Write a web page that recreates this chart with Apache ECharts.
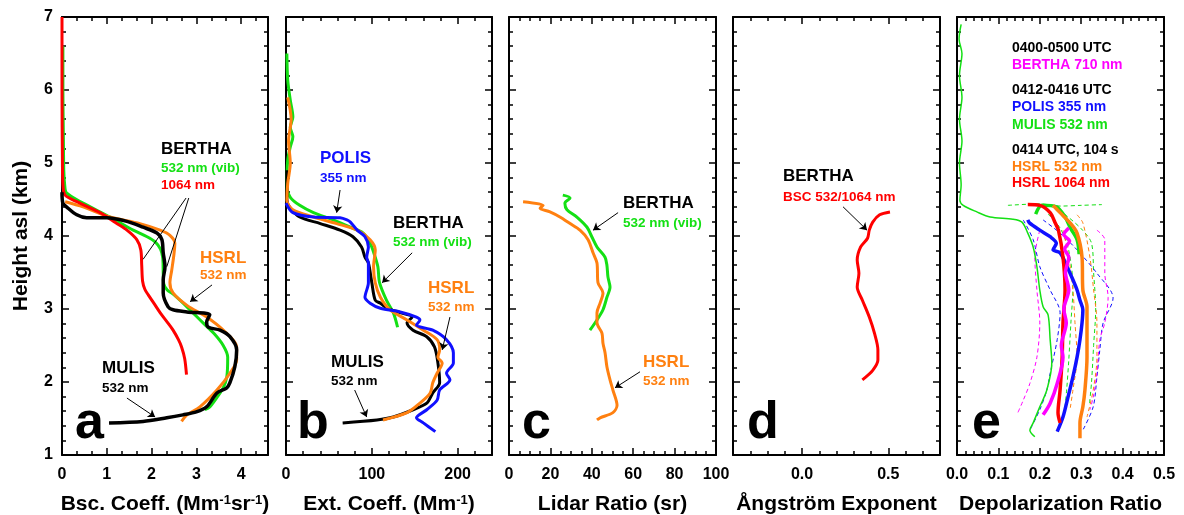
<!DOCTYPE html>
<html>
<head>
<meta charset="utf-8">
<script src="https://cdn.jsdelivr.net/npm/echarts@6/dist/echarts.min.js"></script>
<style>
  html, body { margin: 0; background: #fff; }
  #chart { width: 1184px; height: 515px; }
</style>
</head>
<body>
<div id="chart"></div>
<script>
// ---- data: [value, height km] ----
// a: backscatter coefficient
var aBertha1064 = [[0,7.0],[0,6.0],[0.01,5.0],[0.02,4.7],[0.07,4.56],[0.33,4.47],[0.85,4.32],[1.2,4.18],[1.45,4.08],[1.67,3.95],[1.76,3.81],[1.78,3.6],[1.8,3.38],[1.85,3.27],[1.93,3.19],[2.05,3.08],[2.19,2.95],[2.35,2.82],[2.48,2.71],[2.6,2.58],[2.67,2.48],[2.74,2.32],[2.78,2.10]];
var aBerthaVib = [[0.02,6.6],[0.02,6.0],[0.03,5.4],[0.04,4.9],[0.06,4.7],[0.1,4.59],[0.47,4.45],[1.07,4.26],[1.59,4.08],[1.9,3.99],[2.08,3.92],[2.2,3.82],[2.25,3.7],[2.26,3.5],[2.27,3.35],[2.35,3.26],[2.49,3.2],[2.79,3.03],[3.15,2.81],[3.4,2.66],[3.6,2.5],[3.7,2.34],[3.68,2.07],[3.6,1.92],[3.45,1.78],[3.3,1.66],[3.19,1.62]];
var aMulis = [[0,4.6],[0.02,4.45],[0.1,4.4],[0.33,4.29],[0.55,4.25],[1.0,4.25],[1.45,4.2],[1.81,4.12],[2.12,4.04],[2.23,3.95],[2.26,3.77],[2.3,3.58],[2.26,3.4],[2.26,3.22],[2.37,3.03],[2.48,2.99],[2.79,2.96],[3.3,2.92],[3.23,2.82],[3.27,2.75],[3.53,2.71],[3.75,2.62],[3.9,2.44],[3.86,2.21],[3.75,1.99],[3.68,1.92],[3.46,1.85],[3.23,1.66],[3.0,1.59],[2.7,1.55],[2.34,1.51],[1.81,1.46],[1.05,1.44]];
var aHsrl = [[0.07,4.47],[0.47,4.4],[1.07,4.26],[1.74,4.17],[2.19,4.08],[2.41,4.01],[2.52,3.9],[2.5,3.75],[2.45,3.53],[2.41,3.36],[2.48,3.22],[2.79,3.05],[3.23,2.89],[3.6,2.71],[3.9,2.48],[3.9,2.3],[3.75,2.12],[3.46,1.89],[3.08,1.66],[2.79,1.55],[2.67,1.46]];

// b: extinction coefficient
var bBerthaVib = [[1,6.5],[2,6.14],[5,5.86],[8,5.63],[5,5.49],[8,5.36],[5,5.22],[2,5.04],[1,4.67],[5,4.53],[16,4.42],[32,4.32],[55,4.22],[75,4.12],[90,4.04],[98,3.9],[102,3.78],[107,3.58],[109,3.36],[117,3.12],[125,2.95],[130,2.75]];
var bMulis = [[1,4.9],[1,4.5],[4,4.4],[16,4.26],[40,4.17],[63,4.08],[78,3.99],[88,3.85],[92,3.71],[96,3.63],[100,3.36],[104,3.12],[110,3.08],[118,3.01],[133,2.95],[147,2.89],[141,2.81],[148,2.71],[164,2.62],[173,2.48],[177,2.26],[179,1.99],[171,1.85],[164,1.71],[148,1.62],[125,1.52],[106,1.48],[66,1.44]];
var bHsrl = [[2,5.9],[6,5.6],[3,5.3],[5,5.0],[2,4.72],[1,4.49],[8,4.36],[32,4.26],[59,4.17],[83,4.08],[98,3.95],[104,3.81],[102,3.58],[104,3.36],[110,3.16],[121,2.99],[141,2.85],[160,2.71],[176,2.58],[179,2.44],[177,2.34],[182,2.26],[176,2.12],[171,1.99],[168,1.85],[156,1.71],[141,1.58],[113,1.48]];
var bPolis = [[0,4.45],[8,4.32],[32,4.26],[63,4.25],[71,4.22],[75,4.19],[83,4.08],[92,3.99],[96,3.85],[94,3.71],[96,3.63],[96,3.36],[92,3.16],[98,3.08],[110,3.01],[133,2.96],[152,2.89],[156,2.85],[152,2.78],[171,2.71],[187,2.58],[195,2.4],[195,2.26],[187,2.12],[191,2.03],[179,1.89],[176,1.75],[164,1.62],[152,1.51],[160,1.44],[174,1.32]];

// c: lidar ratio
var cHsrl = [[6.8,4.47],[16.5,4.42],[15,4.38],[19.8,4.33],[24.6,4.26],[29.5,4.17],[34.3,4.08],[38.2,3.95],[40.6,3.77],[42.5,3.63],[43,3.36],[45.4,3.22],[44,3.08],[42.5,2.95],[42.5,2.81],[44.9,2.67],[45.4,2.53],[46.4,2.4],[47.3,2.21],[48.8,2.03],[50.2,1.89],[52.2,1.68],[50.2,1.58],[44,1.51],[42.5,1.48]];
var cBerthaVib = [[26,4.56],[29.5,4.52],[27,4.45],[28,4.36],[32.8,4.26],[37.7,4.12],[40,3.99],[42.5,3.85],[46.4,3.71],[47.3,3.6],[47.8,3.44],[48.8,3.3],[47.3,3.16],[45.4,2.99],[42.5,2.85],[39.1,2.71]];

// d: Angstrom exponent
var dBertha = [[0.51,4.33],[0.45,4.29],[0.41,4.19],[0.39,4.08],[0.38,3.97],[0.34,3.85],[0.32,3.67],[0.33,3.49],[0.32,3.3],[0.35,3.12],[0.39,2.89],[0.42,2.67],[0.44,2.44],[0.44,2.3],[0.41,2.16],[0.35,2.03]];

// e: depolarization ratio
var eMulisVol = [[0.01,6.9],[0.005,6.7],[0.012,6.5],[0.006,6.2],[0.012,5.9],[0.006,5.6],[0.012,5.3],[0.006,5.0],[0.01,4.7],[0.007,4.49],[0.015,4.42],[0.048,4.33],[0.08,4.26],[0.135,4.23],[0.157,4.19],[0.171,4.04],[0.184,3.85],[0.193,3.58],[0.2,3.26],[0.208,3.03],[0.22,2.92],[0.225,2.58],[0.229,2.26],[0.217,1.89],[0.2,1.66],[0.184,1.44],[0.176,1.34],[0.188,1.25]];
var eMulis = [[0.19,4.3],[0.205,4.42],[0.24,4.4],[0.26,4.27],[0.275,4.1],[0.29,3.95],[0.295,3.75]];
var ePolis = [[0.171,4.22],[0.175,4.18],[0.2,4.08],[0.225,3.99],[0.24,3.9],[0.232,3.81],[0.249,3.77],[0.266,3.58],[0.28,3.4],[0.29,3.26],[0.297,3.12],[0.304,2.99],[0.302,2.81],[0.297,2.58],[0.29,2.34],[0.28,2.07],[0.268,1.79],[0.256,1.52],[0.242,1.32]];
var eHsrl1064 = [[0.171,4.43],[0.2,4.42],[0.225,4.32],[0.237,4.18],[0.245,4.08],[0.256,3.71],[0.261,3.26],[0.256,2.81],[0.254,2.34],[0.249,1.89],[0.244,1.58],[0.249,1.44]];
var eBertha710 = [[0.27,4.11],[0.258,4.02],[0.272,3.93],[0.26,3.82],[0.27,3.71],[0.262,3.5],[0.27,3.26],[0.258,3.0],[0.264,2.81],[0.252,2.5],[0.256,2.34],[0.242,1.98],[0.225,1.71],[0.208,1.55]];
var eHsrl532 = [[0.232,4.42],[0.249,4.32],[0.273,4.18],[0.29,4.04],[0.302,3.71],[0.304,3.26],[0.314,3.03],[0.314,2.81],[0.314,2.34],[0.309,1.89],[0.304,1.66],[0.297,1.44],[0.297,1.23]];
var eMulisTop = [[0.123,4.42],[0.2,4.44],[0.25,4.41],[0.3,4.42],[0.35,4.43]];
var eMulisLo = [[0.22,4.3],[0.25,4.1],[0.27,3.8],[0.28,3.3],[0.275,2.8],[0.27,2.3],[0.265,1.9],[0.26,1.6]];
var eMulisHi = [[0.26,4.3],[0.3,4.1],[0.325,3.9],[0.33,3.5],[0.335,3.0],[0.33,2.5],[0.325,2.0],[0.32,1.7]];
var ePolisLo = [[0.16,4.22],[0.184,3.95],[0.2,3.58],[0.225,3.26],[0.249,2.95],[0.242,2.58],[0.225,2.12],[0.217,1.89],[0.2,1.62],[0.176,1.34]];
var ePolisHi = [[0.208,4.22],[0.249,4.04],[0.29,3.81],[0.338,3.49],[0.377,3.15],[0.353,2.81],[0.345,2.44],[0.338,2.07],[0.329,1.66],[0.304,1.34]];
var eBerthaLo = [[0.2,4.08],[0.188,3.71],[0.193,3.26],[0.2,2.81],[0.193,2.34],[0.176,1.98],[0.16,1.75],[0.147,1.58]];
var eBerthaHi = [[0.338,4.08],[0.357,3.95],[0.357,3.49],[0.365,3.16],[0.357,2.81],[0.345,2.58],[0.338,2.12],[0.329,1.79],[0.321,1.62]];
var eHsrlLo = [[0.256,4.08],[0.27,3.71],[0.28,3.26],[0.285,2.81],[0.29,2.34],[0.28,1.89],[0.273,1.62]];
var eHsrlHi = [[0.29,4.29],[0.304,4.18],[0.321,3.71],[0.33,3.26],[0.338,2.81],[0.338,2.34],[0.329,1.89],[0.314,1.52]];

// tick labels
var yTicks = [1, 2, 3, 4, 5, 6, 7];
var aTicks = [0, 1, 2, 3, 4];
var bTicks = [0, 100, 200];
var cTicks = [0, 20, 40, 60, 80, 100];
var dTicks = [0.0, 0.5];
var eTicks = [0.0, 0.1, 0.2, 0.3, 0.4, 0.5];

var F = '"Liberation Sans", Arial, sans-serif';
var GREEN = '#14e014', RED = '#ff0000', BLUE = '#1010ff', ORANGE = '#ff8010', MAG = '#ff00ff';

function steps(a, b, s) {
    var out = [];
    var n = Math.round((b - a) / s);
    for (var i = 0; i <= n; i++) {
        var v = +(a + i * s).toFixed(6);
        if (v <= b + 1e-9) out.push(v);
    }
    return out;
}

var panels = [
    { left: 62, right: 268, min: 0, max: 4.6, ticks: aTicks, minor: steps(0, 4.6, 1 / 3), fmt: function (v) { return v; },
      name: '{t|Bsc. Coeff. (Mm}{s|-1}{t|sr}{s|-1}{t|)}' },
    { left: 286, right: 492, min: 0, max: 240, ticks: bTicks, minor: steps(0, 240, 20), fmt: function (v) { return v; },
      name: '{t|Ext. Coeff. (Mm}{s|-1}{t|)}' },
    { left: 509, right: 716, min: 0, max: 100, ticks: cTicks, minor: steps(0, 100, 5), fmt: function (v) { return v; },
      name: '{t|Lidar Ratio (sr)}' },
    { left: 733, right: 940, min: -0.4, max: 0.8, ticks: dTicks, minor: steps(-0.4, 0.8, 0.1), fmt: function (v) { return v.toFixed(1); },
      name: '{t|Ångström Exponent}' },
    { left: 957, right: 1164, min: 0, max: 0.5, ticks: eTicks, minor: steps(0, 0.5, 0.02), fmt: function (v) { return v.toFixed(1); },
      name: '{t|Depolarization Ratio}' }
];
var yMinor = steps(1, 7, 0.2);

var tickStyle = { color: '#000', width: 1.5 };
var grids = [], xAxes = [], yAxes = [], series = [];

panels.forEach(function (p, i) {
    grids.push({ left: p.left, top: 17, width: p.right - p.left, height: 438, outerBoundsMode: 'none', containLabel: false });
    var xb = { type: 'value', gridIndex: i, min: p.min, max: p.max, splitLine: { show: false } };
    xAxes.push(Object.assign({}, xb, {
        position: 'bottom',
        axisLine: { show: true, onZero: false, lineStyle: { color: '#000', width: 2 } },
        axisTick: { show: true, inside: true, length: 7, customValues: p.ticks, lineStyle: tickStyle },
        axisLabel: { show: true, customValues: p.ticks, formatter: p.fmt, margin: 12, fontSize: 16, fontWeight: 'bold', fontFamily: F, color: '#000' },
        name: p.name, nameLocation: 'middle', nameGap: 39,
        nameTextStyle: { rich: {
            t: { fontSize: 21, fontWeight: 'bold', fontFamily: F, color: '#000' },
            s: { fontSize: 13, fontWeight: 'bold', fontFamily: F, color: '#000', verticalAlign: 'top' }
        } }
    }));
    xAxes.push(Object.assign({}, xb, {
        position: 'bottom', axisLine: { show: false, onZero: false },
        axisTick: { show: true, inside: true, length: 4, customValues: p.minor, lineStyle: tickStyle },
        axisLabel: { show: false }
    }));
    xAxes.push(Object.assign({}, xb, {
        position: 'top',
        axisLine: { show: true, onZero: false, lineStyle: { color: '#000', width: 2 } },
        axisTick: { show: true, inside: true, length: 7, customValues: p.ticks, lineStyle: tickStyle },
        axisLabel: { show: false }
    }));
    xAxes.push(Object.assign({}, xb, {
        position: 'top', axisLine: { show: false, onZero: false },
        axisTick: { show: true, inside: true, length: 4, customValues: p.minor, lineStyle: tickStyle },
        axisLabel: { show: false }
    }));

    var yb = { type: 'value', gridIndex: i, min: 1, max: 7, splitLine: { show: false } };
    var yMain = Object.assign({}, yb, {
        position: 'left',
        axisLine: { show: true, onZero: false, lineStyle: { color: '#000', width: 2 } },
        axisTick: { show: true, inside: true, length: 7, customValues: yTicks, lineStyle: tickStyle },
        axisLabel: { show: i === 0, customValues: yTicks, margin: 9, fontSize: 16, fontWeight: 'bold', fontFamily: F, color: '#000' }
    });
    if (i === 0) {
        yMain.name = 'Height asl (km)';
        yMain.nameLocation = 'middle';
        yMain.nameGap = 30;
        yMain.nameTextStyle = { fontSize: 21, fontWeight: 'bold', fontFamily: F, color: '#000' };
    }
    yAxes.push(yMain);
    yAxes.push(Object.assign({}, yb, {
        position: 'left', axisLine: { show: false, onZero: false },
        axisTick: { show: true, inside: true, length: 4, customValues: yMinor, lineStyle: tickStyle },
        axisLabel: { show: false }
    }));
    yAxes.push(Object.assign({}, yb, {
        position: 'right',
        axisLine: { show: true, onZero: false, lineStyle: { color: '#000', width: 2 } },
        axisTick: { show: true, inside: true, length: 7, customValues: yTicks, lineStyle: tickStyle },
        axisLabel: { show: false }
    }));
    yAxes.push(Object.assign({}, yb, {
        position: 'right', axisLine: { show: false, onZero: false },
        axisTick: { show: true, inside: true, length: 4, customValues: yMinor, lineStyle: tickStyle },
        axisLabel: { show: false }
    }));
});

function line(panel, data, color, width, dashed) {
    series.push({
        type: 'line', xAxisIndex: panel * 4, yAxisIndex: panel * 4, data: data,
        showSymbol: false, smooth: 0.3, silent: true,
        lineStyle: { color: color, width: width, type: dashed ? [4, 3] : 'solid' }
    });
}

// a
line(0, aBerthaVib, GREEN, 3);
line(0, aHsrl, ORANGE, 3);
line(0, aBertha1064, RED, 3);
line(0, aMulis, '#000', 3.5);
// b
line(1, bBerthaVib, GREEN, 3);
line(1, bMulis, '#000', 3);
line(1, bHsrl, ORANGE, 3);
line(1, bPolis, BLUE, 3);
// c
line(2, cBerthaVib, GREEN, 3);
line(2, cHsrl, ORANGE, 3);
// d
line(3, dBertha, RED, 3);
// e
line(4, eMulisTop, GREEN, 1, true);
line(4, eMulisLo, GREEN, 1, true);
line(4, eMulisHi, GREEN, 1, true);
line(4, ePolisLo, BLUE, 1, true);
line(4, ePolisHi, BLUE, 1, true);
line(4, eBerthaLo, MAG, 1, true);
line(4, eBerthaHi, MAG, 1, true);
line(4, eHsrlLo, ORANGE, 1, true);
line(4, eHsrlHi, ORANGE, 1, true);
line(4, eMulisVol, GREEN, 1.5);
line(4, eMulis, GREEN, 3.5);
line(4, eHsrl532, ORANGE, 3.5);
line(4, ePolis, BLUE, 3.5);
line(4, eHsrl1064, RED, 3.5);
line(4, eBertha710, MAG, 3.5);

// pointer lines: [panel, from, to, arrow]
var pointers = [
    [0, [2.77, 4.52], [1.81, 3.68], false],
    [0, [2.83, 4.52], [2.34, 3.58], false],
    [0, [3.35, 3.33], [2.86, 3.10], true],
    [0, [1.45, 1.78], [2.08, 1.52], true],
    [1, [63, 4.63], [59, 4.32], true],
    [1, [147, 3.77], [112, 3.36], true],
    [1, [191, 2.89], [182, 2.44], true],
    [1, [80, 1.89], [94, 1.52], true],
    [2, [52.7, 4.32], [40.6, 4.08], true],
    [2, [63.3, 2.14], [51.2, 1.92], true],
    [3, [0.238, 4.40], [0.377, 4.08], true]
];
[0, 1, 2, 3].forEach(function (pi) {
    series.push({
        type: 'line', xAxisIndex: pi * 4, yAxisIndex: pi * 4, data: [], silent: true,
        markLine: {
            silent: true, animation: false, symbol: ['none', 'arrow'], symbolSize: 7,
            label: { show: false },
            lineStyle: { color: '#000', width: 1, type: 'solid' },
            emphasis: { disabled: true },
            data: pointers.filter(function (q) { return q[0] === pi; }).map(function (q) {
                return [{ coord: q[1], symbol: 'none' }, { coord: q[2], symbol: q[3] ? 'arrow' : 'none' }];
            })
        }
    });
});

// text labels [text, x, y, color, size]
var notes = [
    ['BERTHA', 161, 149, '#000', 17], ['532 nm (vib)', 161, 168, GREEN, 13.5], ['1064 nm', 161, 185, RED, 13.5],
    ['HSRL', 200, 258, ORANGE, 17], ['532 nm', 200, 275, ORANGE, 13.5],
    ['MULIS', 102, 368, '#000', 17], ['532 nm', 102, 388, '#000', 13.5],
    ['POLIS', 320, 158, BLUE, 17], ['355 nm', 320, 178, BLUE, 13.5],
    ['BERTHA', 393, 223, '#000', 17], ['532 nm (vib)', 393, 242, GREEN, 13.5],
    ['HSRL', 428, 288, ORANGE, 17], ['532 nm', 428, 307, ORANGE, 13.5],
    ['MULIS', 331, 362, '#000', 17], ['532 nm', 331, 381, '#000', 13.5],
    ['BERTHA', 623, 203, '#000', 17], ['532 nm (vib)', 623, 223, GREEN, 13.5],
    ['HSRL', 643, 362, ORANGE, 17], ['532 nm', 643, 381, ORANGE, 13.5],
    ['BERTHA', 783, 176, '#000', 17], ['BSC 532/1064 nm', 783, 197, RED, 13.5],
    ['0400-0500 UTC', 1012, 48, '#000', 14], ['BERTHA 710 nm', 1012, 65, MAG, 14],
    ['0412-0416 UTC', 1012, 90, '#000', 14], ['POLIS 355 nm', 1012, 107, BLUE, 14], ['MULIS 532 nm', 1012, 125, GREEN, 14],
    ['0414 UTC, 104 s', 1012, 150, '#000', 14], ['HSRL 532 nm', 1012, 167, ORANGE, 14], ['HSRL 1064 nm', 1012, 183, RED, 14],
    ['a', 75, 424, '#000', 52], ['b', 297, 424, '#000', 52], ['c', 522, 424, '#000', 52],
    ['d', 747, 424, '#000', 52], ['e', 972, 424, '#000', 52]
];
var graphics = notes.map(function (n) {
    return {
        type: 'text', x: n[1], y: n[2], silent: true, z: 100,
        style: {
            text: n[0], fill: n[3], font: 'bold ' + n[4] + 'px ' + F,
            textAlign: 'left', textVerticalAlign: 'middle', align: 'left', verticalAlign: 'middle'
        }
    };
});

var chart = echarts.init(document.getElementById('chart'), null, { renderer: 'canvas' });
chart.setOption({
    animation: false,
    backgroundColor: '#fff',
    grid: grids,
    xAxis: xAxes,
    yAxis: yAxes,
    series: series,
    graphic: graphics
});
</script>
</body>
</html>
